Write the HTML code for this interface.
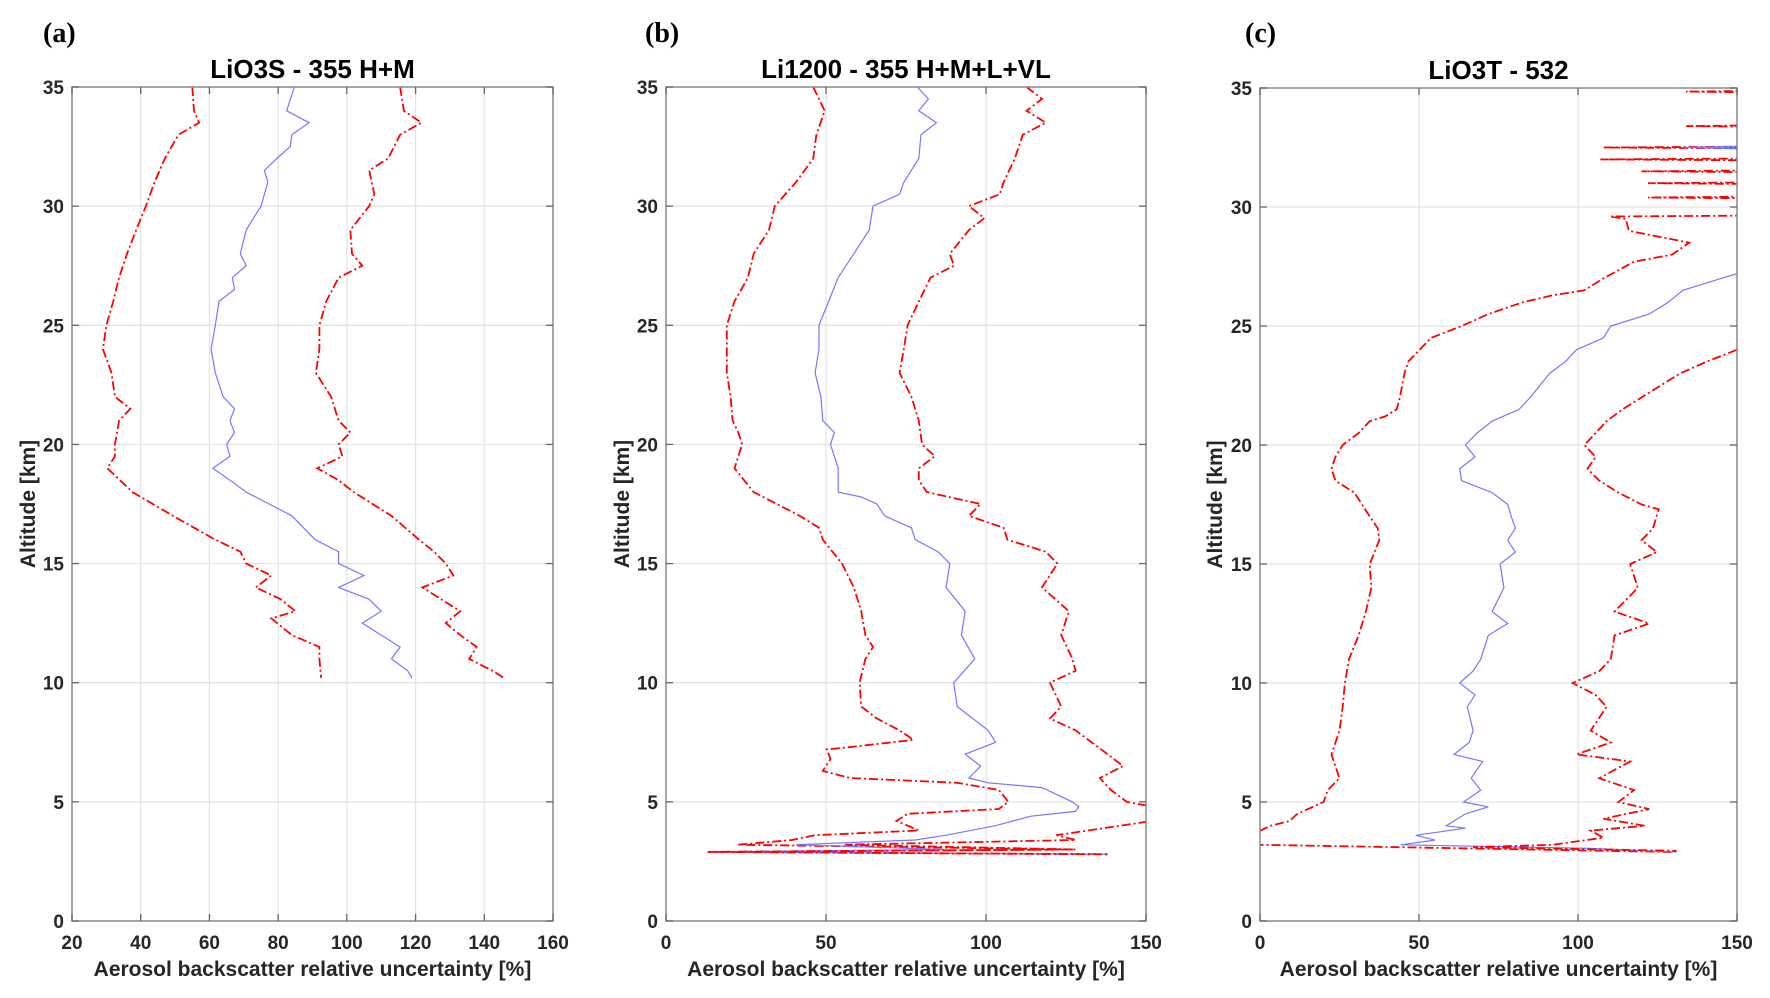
<!DOCTYPE html>
<html><head><meta charset="utf-8"><style>
body{margin:0;background:#fff;}
svg{display:block;font-family:"Liberation Sans",Arial,sans-serif;}
.tk{font-size:19px;font-weight:bold;fill:#262626;}
.ax{font-size:21px;font-weight:bold;fill:#262626;}
.ti{font-size:26px;font-weight:bold;fill:#000;}
.pl{font-family:"Liberation Serif",serif;font-size:28px;font-weight:bold;fill:#000;}
</style></head><body>
<svg id="fig" width="1770" height="998" viewBox="0 0 1770 998"></svg>
<script>
// ---- Panel (a) data: altitude [km] and uncertainty [%]
const aLowAlt=[35,34,33.5,33,32,31,30,29,28,27,26,25,24,23,22,21.5,21,20,19.5,19,18,17,16,15.5,15,14.5,14,13.5,13,12.7,12,11.5,11,10.2];
const aLowVal=[55,55.5,57,51,47,44,41.5,38.7,36,33.7,32,30,29,31.5,32.5,37,33.7,32.5,32.5,30.3,37.6,49.4,61.7,69,70.7,78,73.5,80.8,85,78,84,92,92,92.5];
const aMidAlt=[35,34,33.5,33,32.5,32,31.5,31,30,29,28,27.5,27,26.5,26,25,24,23,22,21.5,21,20.5,20,19.5,19,18.5,18,17.5,17,16,15.5,15,14.5,14,13.5,13,12.5,12,11.5,11,10.5,10.2];
const aMidVal=[84.7,82.5,89,84,83.5,79.6,76,77,75,70.7,69,70.7,66.7,67.3,62.8,61.7,60.5,61.7,64,67.3,66,67.3,65,66,61,66,70.7,77.4,84,90.8,97.6,97.6,105,97.6,106.5,110,104.5,110,115.5,113,117.7,119];
const aHighAlt=[35,34,33.5,33,32,31.5,30.5,30,29,28,27.5,27,26,25,24,23,22,21,20.5,20,19.5,19,18.5,18,17,16,15.5,15,14.5,14,13,12.5,12,11.5,11,10.5,10.2];
const aHighVal=[115.5,116.6,121.7,115.5,112,106.5,108,106.5,101,101.5,104.5,97.6,94,92,92,91,95.4,97.6,101,97.6,98.7,91.4,97.6,102,113,121,125.4,128.8,131,122,133,128.8,133,137.8,135.6,142.4,145.7];
// ---- Panel (b) data
const bLowAlt=[35,34,33,32,31,30,29,28,27,26,25,24,23,22,21,20.5,20,19,18,17.5,17,16.5,16,15,14,13,12,11.5,11,10,9,8.5,8,7.6,7.3,7.2,6.8,6.3,6,5.8,5.5,5,4.7,4.5,4.2,4,3.8,3.6,3.4,3.2,3.0,2.9,2.8];
const bLowVal=[46,49.6,47,46,40.6,34,32.2,27.4,25.6,21.4,19,19,19,20.2,20.8,22.6,23.8,21.4,27.4,34.6,41.8,47.8,49,55,58.7,61,62.3,64.7,62.3,60.5,61,65.9,73,77.3,57.5,50.2,51.4,49,57.5,91,104,107,104,75.5,72,75.5,79,46.6,39.4,22.6,127,13,138];
const bMidAlt=[35,34.5,34,33.5,33,32,31,30.5,30,29,28,27,26,25,24,23,22,21,20.5,20,19,18,17.8,17.5,17,16.5,16,15.5,15,14,13,12,11,10,9,8,7.5,7,6.5,6,5.8,5.6,5,4.8,4.6,4.4,4,3.6,3.4,3.2,3.0,2.9,2.8];
const bMidVal=[78.5,82,79,84.5,79.7,79,74.3,73,64.7,63.5,58.7,53.8,50.8,47.8,47.8,46.6,48.4,49,52.6,51.4,53.8,53.8,61,65.9,68.3,76.7,77.9,85,88.7,87.5,93.5,92.3,96.5,89.9,91,100.7,103,93.5,98.3,94.7,100.7,117.5,127,129,128,114,103,87.5,77.9,40.6,87,13,138];
const bHighAlt=[35,34.5,34,33.5,33,32,31,30.5,30,29.5,29,28,27.5,27,26,25,24,23,22,21,20,19.5,19,18.5,18,17.5,17,16.5,16,15.5,15,14,13,12,11,10.5,10,9,8.5,8,7.5,7,6.5,6,5.5,5,4.8,4.2,3.6,3.4,3.2,3,2.9,2.8];
const bHighVal=[112.7,117.5,112.7,118.7,111.5,109,105.5,104.3,94.7,99.5,94.7,88.7,90,82.7,79,75.5,74.3,73,76.7,79,80,84,79,79,81.5,98.3,94.7,105.5,106.7,118.7,122.3,117.5,125.9,123.5,127,128,120,123.5,120,128,133,138,142.8,135.6,139,144,152,152,122,128,56,128,13,138];
// ---- Panel (c) data
const cLowAlt=[34.9,34.85,34.8,33.45,33.4,33.35,32.55,32.5,32.45,32.05,32,31.95,31.55,31.5,31.45,31.05,31,30.95,30.45,30.4,30.35,29.65,29.6,29.5,29,28.5,28,27.7,27,26.5,26.3,26,25.5,25,24.5,24,23.5,23,22,21.5,21.2,21,20.5,20,19.5,19,18.5,18,17,16.5,16,15,14,13,12,11,10,9,8,7,6.5,6,5.5,5,4.5,4.2,4,3.8,3.5,3.2,2.9];
const cLowVal=[170,134,170,170,134,170,170,108,170,170,107,170,170,120,170,170,122,170,170,122,170,170,110,115,116,135,129.6,117.6,108,102,92.3,82.7,71.8,63.4,53.8,50.2,46.6,45.4,44,43,39.4,34.5,31,26,23.7,22.5,23.7,29.7,34.5,37,37.5,34.5,35,33.3,31,28,26.7,26,25,22.5,23.7,25,21.3,20,11.7,9.3,3.2,0.2,-10,0,130];
const cMidAlt=[32.6,32.5,32.4,29.6,29.4,27.2,27,26.5,26,25.5,25,24.5,24,23.5,23,22,21.5,21,20.5,20,19.5,19,18.5,18,17.5,17,16.5,16,15.5,15,14,13,12.5,12,11,10.5,10,9.5,9,8,7.5,7,6.7,6,5.5,5,4.8,4.5,4,3.9,3.6,3.4,3.2,3.05,2.9];
const cMidVal=[170,133,170,170,150,150,145,133,128.4,122.4,110.3,108,99.5,96,91,85,81.5,73,68.2,64.6,67.6,62.8,63.4,73,77.9,79,80.3,77.9,80.3,75.5,76.7,73,77.9,71.8,69.4,67,62.8,67.6,65.2,67,65.8,61,70,66.4,69.4,64,71.8,64.6,58.6,64.6,49,55,44.2,104,131];
const cHighAlt=[24.2,24,23.5,23,22.5,22,21.5,21,20.5,20,19.5,19,18.5,18,17.5,17.3,16.5,16,15.5,15,14,13,12.5,12,11,10.5,10,9.5,9,8,7.5,7,6.7,6,5.5,5,4.7,4.3,4,3.8,3.5,3.2,3.1,2.95];
const cHighVal=[155,150,140.4,132,126,120,114,109,105.5,102,105.5,103,106.7,112.7,120,125.4,123.6,120,124.8,116.4,118.8,111.5,122.4,111.5,110.3,106.7,98.3,105.5,109,104,110.3,99.5,116.4,106.7,117.6,112.7,122.4,108,121,104,108,92,67,131];
// ---- Axes tick values
const yTicks=[0,5,10,15,20,25,30,35];
const aXTicks=[20,40,60,80,100,120,140,160];
const bXTicks=[0,50,100,150];
const cXTicks=[0,50,100,150];

const NS="http://www.w3.org/2000/svg";
const svg=document.getElementById('fig');
function mk(tag,attrs,parent){const e=document.createElementNS(NS,tag);for(const k in attrs)e.setAttribute(k,attrs[k]);(parent||svg).appendChild(e);return e;}

function panel(id,box,xmin,xmax,xTicks,title,label,labX,ylabX,series){
  const [L,T,R,B]=box;
  const sx=v=>L+(v-xmin)/(xmax-xmin)*(R-L);
  const sy=a=>B-a/35*(B-T);
  const g=mk('g',{});
  
  
  const cp=mk('clipPath',{id:'clip'+id},g);
  mk('rect',{x:L,y:T,width:R-L,height:B-T},cp);
  const grid=mk('g',{},g);
  
  
  xTicks.forEach(v=>{mk('line',{x1:sx(v),x2:sx(v),y1:T,y2:B,stroke:'#e3e3e3','stroke-width':1.2},grid);});
  yTicks.forEach(v=>{mk('line',{x1:L,x2:R,y1:sy(v),y2:sy(v),stroke:'#e3e3e3','stroke-width':1.2},grid);});
  series.forEach(s=>{
    const p=mk('polyline',{points:s.alt.map((a,i)=>sx(s.val[i]).toFixed(1)+','+sy(a).toFixed(1)).join(' '),fill:'none',stroke:s.color,'stroke-width':s.dash?1.8:1.2,'stroke-dasharray':s.dash||'none','clip-path':'url(#clip'+id+')'},g);
    
    
  });
  const frame=mk('rect',{x:L,y:T,width:R-L,height:B-T,fill:'none',stroke:'#8a8a8a','stroke-width':1.5},g);
  
  
  xTicks.forEach(v=>{
    mk('line',{x1:sx(v),x2:sx(v),y1:B,y2:B-7,stroke:'#666','stroke-width':1.3},g);
    mk('line',{x1:sx(v),x2:sx(v),y1:T,y2:T+7,stroke:'#666','stroke-width':1.3},g);
    const t=mk('text',{x:sx(v),y:B+28,'text-anchor':'middle',class:'tk'},g);t.textContent=v;
    
    
  });
  yTicks.forEach(v=>{
    mk('line',{x1:L,x2:L+7,y1:sy(v),y2:sy(v),stroke:'#666','stroke-width':1.3},g);
    mk('line',{x1:R,x2:R-7,y1:sy(v),y2:sy(v),stroke:'#666','stroke-width':1.3},g);
    const t=mk('text',{x:L-8,y:sy(v)+7,'text-anchor':'end',class:'tk'},g);t.textContent=v;
    
    
  });
  const xt=mk('text',{x:(L+R)/2,y:B+55,'text-anchor':'middle',class:'ax'},g);
  xt.textContent='Aerosol backscatter relative uncertainty [%]';
  
  
  const yt=mk('text',{x:0,y:0,'text-anchor':'middle',class:'ax',transform:`translate(${ylabX},${(T+B)/2}) rotate(-90)`},g);
  yt.textContent='Altitude [km]';
  
  
  const tt=mk('text',{x:(L+R)/2,y:T-9,'text-anchor':'middle',class:'ti'},g);
  tt.textContent=title;
  
  
  const pl=mk('text',{x:labX,y:42,class:'pl'},g);
  pl.textContent=label;
  
  
}
const RD='9 3 2 3', RED='#ff0000', BLUE='#7777ff';
panel('a',[72,87,553,921],20,160,aXTicks,'LiO3S - 355 H+M','(a)',43,35,[
 {alt:aLowAlt,val:aLowVal,color:RED,dash:RD,name:'lower-bound-line'},
 {alt:aMidAlt,val:aMidVal,color:BLUE,name:'mean-uncertainty-line'},
 {alt:aHighAlt,val:aHighVal,color:RED,dash:RD,name:'upper-bound-line'}]);
panel('b',[666,87,1146,921],0,150,bXTicks,'Li1200 - 355 H+M+L+VL','(b)',645,629,[
 {alt:bLowAlt,val:bLowVal,color:RED,dash:RD,name:'lower-bound-line'},
 {alt:bMidAlt,val:bMidVal,color:BLUE,name:'mean-uncertainty-line'},
 {alt:bHighAlt,val:bHighVal,color:RED,dash:RD,name:'upper-bound-line'}]);
panel('c',[1260,88,1737,921],0,150,cXTicks,'LiO3T - 532','(c)',1245,1222,[
 {alt:cLowAlt,val:cLowVal,color:RED,dash:RD,name:'lower-bound-line'},
 {alt:cMidAlt,val:cMidVal,color:BLUE,name:'mean-uncertainty-line'},
 {alt:cHighAlt,val:cHighVal,color:RED,dash:RD,name:'upper-bound-line'}]);
</script>
</body></html>
